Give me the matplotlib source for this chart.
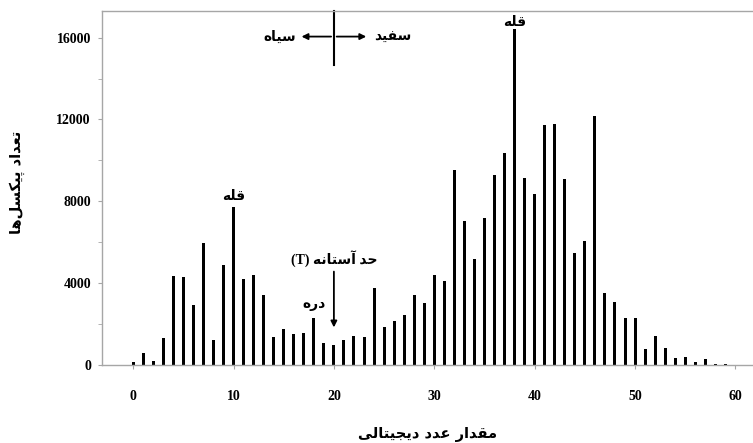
import matplotlib
matplotlib.use("Agg")
import matplotlib.pyplot as plt

# histogram of digital numbers
digital_values = list(range(0, 61))
pixel_counts = [150, 570, 200, 1300, 4340, 4280, 2910, 5970, 1220, 4880,
                7720, 4210, 4390, 3430, 1350, 1770, 1500, 1540, 2310, 1060,
                975, 1220, 1430, 1350, 3740, 1840, 2160, 2440, 3430, 3040,
                4390, 4110, 9550, 7040, 5200, 7170, 9300, 10370, 16420, 9150,
                8340, 11720, 11800, 9100, 5480, 6050, 12160, 3500, 3090, 2280,
                2280, 760, 1430, 810, 330, 370, 160, 290, 50, 40, 10]
x_ticks = [0, 10, 20, 30, 40, 50, 60]
y_ticks = [0, 4000, 8000, 12000, 16000]

# minimal arabic/persian shaping (matplotlib has no complex text layout)
FORMS = {
    'ا': ('\uFE8D', '\uFE8E', None, None),
    'آ': ('\uFE81', '\uFE82', None, None),
    'د': ('\uFEA9', '\uFEAA', None, None),
    'ر': ('\uFEAD', '\uFEAE', None, None),
    'ت': ('\uFE95', '\uFE96', '\uFE97', '\uFE98'),
    'ج': ('\uFE9D', '\uFE9E', '\uFE9F', '\uFEA0'),
    'ح': ('\uFEA1', '\uFEA2', '\uFEA3', '\uFEA4'),
    'س': ('\uFEB1', '\uFEB2', '\uFEB3', '\uFEB4'),
    'ع': ('\uFEC9', '\uFECA', '\uFECB', '\uFECC'),
    'ف': ('\uFED1', '\uFED2', '\uFED3', '\uFED4'),
    'ق': ('\uFED5', '\uFED6', '\uFED7', '\uFED8'),
    'ل': ('\uFEDD', '\uFEDE', '\uFEDF', '\uFEE0'),
    'م': ('\uFEE1', '\uFEE2', '\uFEE3', '\uFEE4'),
    'ن': ('\uFEE5', '\uFEE6', '\uFEE7', '\uFEE8'),
    'ه': ('\uFEE9', '\uFEEA', '\uFEEB', '\uFEEC'),
    'ی': ('\uFBFC', '\uFBFD', '\uFBFE', '\uFBFF'),
    'ک': ('\uFB8E', '\uFB8F', '\uFB90', '\uFB91'),
    'پ': ('\uFB56', '\uFB57', '\uFB58', '\uFB59'),
}


def fa(text):
    out = []
    for i, c in enumerate(text):
        if c not in FORMS:
            out.append(c)
            continue
        prev = text[i - 1] if i > 0 else None
        nxt = text[i + 1] if i + 1 < len(text) else None
        join_prev = prev in FORMS and FORMS[prev][2] is not None
        join_next = nxt in FORMS and FORMS[c][2] is not None
        iso, fin, ini, med = FORMS[c]
        if join_prev and join_next:
            out.append(med)
        elif join_prev:
            out.append(fin)
        elif join_next:
            out.append(ini)
        else:
            out.append(iso)
    return ''.join(o for o in out if o != '\u200c')[::-1]


FA_FONT = dict(family='DejaVu Sans', fontweight='bold')
NUM_FONT = dict(family='Liberation Serif', fontweight='bold', fontsize=10)
GREY = '#a6a6a6'

fig = plt.figure(figsize=(7.53, 4.43), dpi=100)
ax = fig.add_axes([102 / 753, 1 - 365 / 443, 1 - 102 / 753, (365 - 11) / 443])

ax.bar(digital_values, pixel_counts, width=0.3, color='black')

ax.set_xlim(-3.1, 61.75)
ax.set_ylim(0, 17300)
ax.set_xticks(x_ticks)
ax.set_yticks(y_ticks)
ax.set_yticks([2000, 6000, 10000, 14000], minor=True)
ax.set_xticklabels([str(v) for v in x_ticks], **NUM_FONT)
ax.set_yticklabels([str(v) for v in y_ticks], **NUM_FONT)
ax.tick_params(axis='x', length=3, pad=15, color=GREY)
ax.tick_params(axis='y', which='both', length=3, pad=5, color=GREY)

for side in ['left', 'top', 'bottom']:
    ax.spines[side].set_color(GREY)
    ax.spines[side].set_linewidth(1)
ax.spines['right'].set_visible(False)

# peaks, valley and threshold
ax.text(10, 8250, fa('قله'), ha='center', va='center', fontsize=10, **FA_FONT)
ax.text(38, 16750, fa('قله'), ha='center', va='center', fontsize=10, **FA_FONT)
ax.text(18, 2990, fa('دره'), ha='center', va='center', fontsize=10, **FA_FONT)
ax.text(20, 5150, '(T) ' + fa('حد آستانه'), ha='center', va='center', fontsize=10,
        family=['Liberation Serif', 'DejaVu Sans'], fontweight='bold')
ax.annotate('', xy=(20, 1700), xytext=(20, 4700),
            arrowprops=dict(arrowstyle='-|>', color='black', lw=1.3, mutation_scale=9))

# black / white direction cross
ax.plot([20, 20], [14650, 17300], color='black', lw=1.5, clip_on=False)
ax.annotate('', xy=(16.5, 16050), xytext=(20, 16050),
            arrowprops=dict(arrowstyle='-|>', color='black', lw=1.3, mutation_scale=9))
ax.annotate('', xy=(23.5, 16050), xytext=(20, 16050),
            arrowprops=dict(arrowstyle='-|>', color='black', lw=1.3, mutation_scale=9))
ax.text(16.2, 16050, fa('سیاه'), ha='right', va='center', fontsize=10, **FA_FONT)
ax.text(24.0, 16050, fa('سفید'), ha='left', va='center', fontsize=10, **FA_FONT)

fig.text(428 / 753, 1 - 435 / 443, fa('مقدار عدد دیجیتالی'), ha='center', va='center',
         fontsize=10.5, **FA_FONT)
fig.text(17 / 753, 1 - 182 / 443, fa('تعداد پیکسل\u200cها'), ha='center', va='center',
         rotation=90, fontsize=10.5, **FA_FONT)

fig.savefig('out.png', dpi=100)
